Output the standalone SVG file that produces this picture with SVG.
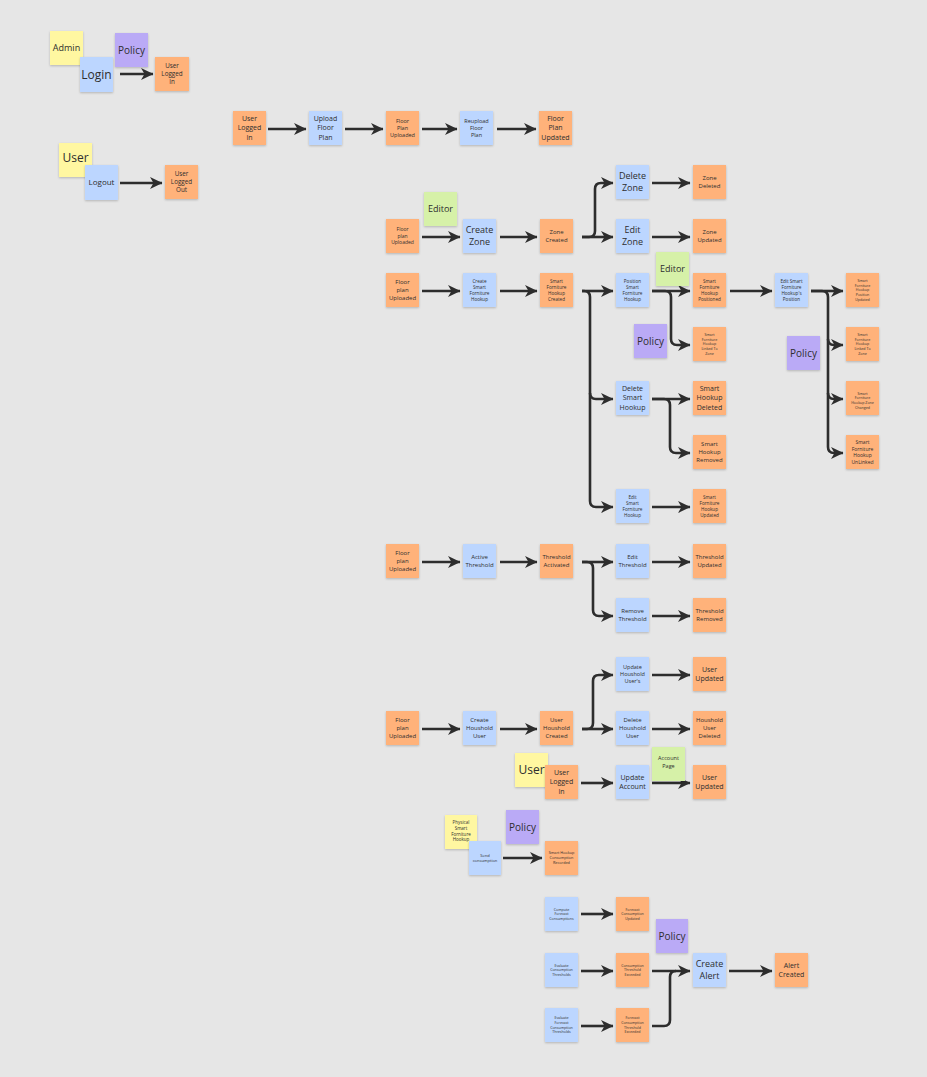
<svg xmlns="http://www.w3.org/2000/svg" width="927" height="1077" viewBox="0 0 927 1077">
<defs>
  <filter id="sh" x="-20%" y="-20%" width="140%" height="150%">
    <feDropShadow dx="0" dy="1" stdDeviation="0.8" flood-color="#000" flood-opacity="0.22"/>
  </filter>
  <marker id="ah" markerUnits="userSpaceOnUse" markerWidth="13" markerHeight="13" refX="12" refY="6.5" orient="auto">
    <path d="M0,0.5 L12.5,6.5 L0,12.5 L3.5,6.5 Z" fill="#2d2d2d"/>
  </marker>
  <style>
    .n rect{filter:url(#sh)}
    .o rect{fill:#ffb27a}
    .b rect{fill:#bcd6ff}
    .y rect{fill:#fff7a1}
    .p rect{fill:#baaaf6}
    .g rect{fill:#d6f1a8}
    .n text{font-family:"Open Sans","Noto Sans",sans-serif;fill:#2e2e2e;text-anchor:middle}
    .c path{fill:none;stroke:#2d2d2d;stroke-width:2.6;stroke-linecap:butt;stroke-linejoin:round}
    .c path.a{marker-end:url(#ah)}
  </style>
</defs>
<rect width="927" height="1077" fill="#e6e6e6"/>

<!-- connectors -->
<g id="connectors" class="c">
  <path class="a" d="M120,74 H153"/>
  <path class="a" d="M120,183 H162"/>
  <path class="a" d="M268,129 H306"/>
  <path class="a" d="M345,129 H383"/>
  <path class="a" d="M422,129 H457"/>
  <path class="a" d="M497,129 H536"/>
  <path class="a" d="M422,237 H460"/>
  <path class="a" d="M500,237 H537"/>
  <path class="a" d="M582,237 H613"/>
  <path class="a" d="M582,237 H589 Q595,237 595,231 V189 Q595,183 601,183 H613"/>
  <path class="a" d="M652,183 H690"/>
  <path class="a" d="M652,237 H690"/>
  <path class="a" d="M422,291 H460"/>
  <path class="a" d="M500,291 H537"/>
  <path class="a" d="M582,291 H613"/>
  <path class="a" d="M582,291 H584 Q590,291 590,297 V501 Q590,507 596,507 H613"/>
  <path class="a" d="M590,393 Q590,399 596,399 H613"/>
  <path class="a" d="M652,291 H690"/>
  <path class="a" d="M652,291 H665 Q671,291 671,297 V339 Q671,345 677,345 H690"/>
  <path class="a" d="M730,291 H772"/>
  <path class="a" d="M811,291 H843"/>
  <path class="a" d="M811,291 H822 Q828,291 828,297 V447 Q828,453 834,453 H843"/>
  <path class="a" d="M828,339 Q828,345 834,345 H843"/>
  <path class="a" d="M828,393 Q828,399 834,399 H843"/>
  <path class="a" d="M652,399 H690"/>
  <path class="a" d="M652,399 H664 Q670,399 670,405 V447 Q670,453 676,453 H690"/>
  <path class="a" d="M652,507 H690"/>
  <path class="a" d="M422,562 H460"/>
  <path class="a" d="M500,562 H537"/>
  <path class="a" d="M582,562 H613"/>
  <path class="a" d="M582,562 H587 Q593,562 593,568 V610 Q593,616 599,616 H613"/>
  <path class="a" d="M652,562 H690"/>
  <path class="a" d="M652,616 H690"/>
  <path class="a" d="M422,729 H460"/>
  <path class="a" d="M500,729 H537"/>
  <path class="a" d="M582,729 H613"/>
  <path class="a" d="M582,729 H587 Q593,729 593,723 V681 Q593,675 599,675 H613"/>
  <path class="a" d="M652,675 H690"/>
  <path class="a" d="M652,729 H690"/>
  <path class="a" d="M581,783 H613"/>
  <path class="a" d="M652,783 H690"/>
  <path class="a" d="M503,858 H542"/>
  <path class="a" d="M581,914 H613"/>
  <path class="a" d="M581,971 H613"/>
  <path class="a" d="M581,1026 H613"/>
  <path class="a" d="M652,971 H690"/>
  <path d="M652,1026 H664 Q670,1026 670,1020 V977 Q670,971 676,971"/>
  <path class="a" d="M729,971 H772"/>
</g>

<!-- sign-in -->
<g id="n-admin" class="n y"><rect x="50" y="31" width="33" height="34"/><text x="66.5" y="48" font-size="9"><tspan x="66.5" dy="0.35em">Admin</tspan></text></g>
<g id="n-policy-login" class="n p"><rect x="115" y="33" width="33" height="34"/><text x="131.5" y="50" font-size="10"><tspan x="131.5" dy="0.35em">Policy</tspan></text></g>
<g id="n-login" class="n b"><rect x="80" y="57" width="33" height="35"/><text x="96.5" y="74.5" font-size="12"><tspan x="96.5" dy="0.35em">Login</tspan></text></g>
<g id="n-user-logged-in-a" class="n o"><rect x="155" y="57" width="34" height="34"/><text x="172" y="74" font-size="6.3"><tspan x="172" dy="-0.95em">User</tspan><tspan x="172" dy="1.3em">Logged</tspan><tspan x="172" dy="1.3em">In</tspan></text></g>
<g id="n-user-a" class="n y"><rect x="59" y="143" width="33" height="34"/><text x="75.5" y="158" font-size="12"><tspan x="75.5" dy="0.35em">User</tspan></text></g>
<g id="n-logout" class="n b"><rect x="85" y="165" width="33" height="35"/><text x="101.5" y="182.5" font-size="8"><tspan x="101.5" dy="0.35em">Logout</tspan></text></g>
<g id="n-user-logged-out" class="n o"><rect x="165" y="165" width="33" height="34"/><text x="181.5" y="182" font-size="6.3"><tspan x="181.5" dy="-0.95em">User</tspan><tspan x="181.5" dy="1.3em">Logged</tspan><tspan x="181.5" dy="1.3em">Out</tspan></text></g>

<!-- floor plan upload -->
<g id="n-user-logged-in-b" class="n o"><rect x="233" y="111" width="33" height="34"/><text x="249.5" y="128" font-size="7"><tspan x="249.5" dy="-0.95em">User</tspan><tspan x="249.5" dy="1.3em">Logged</tspan><tspan x="249.5" dy="1.3em">In</tspan></text></g>
<g id="n-upload-floor-plan" class="n b"><rect x="309" y="111" width="33" height="34"/><text x="325.5" y="128" font-size="7"><tspan x="325.5" dy="-0.95em">Upload</tspan><tspan x="325.5" dy="1.3em">Floor</tspan><tspan x="325.5" dy="1.3em">Plan</tspan></text></g>
<g id="n-floor-plan-uploaded-a" class="n o"><rect x="386" y="111" width="33" height="34"/><text x="402.5" y="128" font-size="5.5"><tspan x="402.5" dy="-0.95em">Floor</tspan><tspan x="402.5" dy="1.3em">Plan</tspan><tspan x="402.5" dy="1.3em">Uploaded</tspan></text></g>
<g id="n-reupload-floor-plan" class="n b"><rect x="460" y="111" width="33" height="34"/><text x="476.5" y="128" font-size="5.5"><tspan x="476.5" dy="-0.95em">Reupload</tspan><tspan x="476.5" dy="1.3em">Floor</tspan><tspan x="476.5" dy="1.3em">Plan</tspan></text></g>
<g id="n-floor-plan-updated" class="n o"><rect x="539" y="111" width="33" height="34"/><text x="555.5" y="128" font-size="7"><tspan x="555.5" dy="-0.95em">Floor</tspan><tspan x="555.5" dy="1.3em">Plan</tspan><tspan x="555.5" dy="1.3em">Updated</tspan></text></g>

<!-- zones -->
<g id="n-editor-a" class="n g"><rect x="424" y="192" width="33" height="34"/><text x="440.5" y="209" font-size="9"><tspan x="440.5" dy="0.35em">Editor</tspan></text></g>
<g id="n-floor-plan-uploaded-b" class="n o"><rect x="386" y="219" width="33" height="34"/><text x="402.5" y="236" font-size="5"><tspan x="402.5" dy="-0.95em">Floor</tspan><tspan x="402.5" dy="1.3em">plan</tspan><tspan x="402.5" dy="1.3em">Uploaded</tspan></text></g>
<g id="n-create-zone" class="n b"><rect x="463" y="219" width="33" height="34"/><text x="479.5" y="236" font-size="9"><tspan x="479.5" dy="-0.3em">Create</tspan><tspan x="479.5" dy="1.3em">Zone</tspan></text></g>
<g id="n-zone-created" class="n o"><rect x="540" y="219" width="33" height="34"/><text x="556.5" y="236" font-size="6"><tspan x="556.5" dy="-0.3em">Zone</tspan><tspan x="556.5" dy="1.3em">Created</tspan></text></g>
<g id="n-delete-zone" class="n b"><rect x="616" y="165" width="33" height="34"/><text x="632.5" y="182" font-size="9"><tspan x="632.5" dy="-0.3em">Delete</tspan><tspan x="632.5" dy="1.3em">Zone</tspan></text></g>
<g id="n-edit-zone" class="n b"><rect x="616" y="219" width="33" height="34"/><text x="632.5" y="236" font-size="9"><tspan x="632.5" dy="-0.3em">Edit</tspan><tspan x="632.5" dy="1.3em">Zone</tspan></text></g>
<g id="n-zone-deleted" class="n o"><rect x="693" y="165" width="33" height="34"/><text x="709.5" y="182" font-size="6"><tspan x="709.5" dy="-0.3em">Zone</tspan><tspan x="709.5" dy="1.3em">Deleted</tspan></text></g>
<g id="n-zone-updated" class="n o"><rect x="693" y="219" width="33" height="34"/><text x="709.5" y="236" font-size="6"><tspan x="709.5" dy="-0.3em">Zone</tspan><tspan x="709.5" dy="1.3em">Updated</tspan></text></g>

<!-- smart furniture hookups -->
<g id="n-floor-plan-uploaded-c" class="n o"><rect x="386" y="273" width="33" height="34"/><text x="402.5" y="290" font-size="6"><tspan x="402.5" dy="-0.95em">Floor</tspan><tspan x="402.5" dy="1.3em">plan</tspan><tspan x="402.5" dy="1.3em">Uploaded</tspan></text></g>
<g id="n-create-sfh" class="n b"><rect x="463" y="273" width="33" height="34"/><text x="479.5" y="290" font-size="4.6"><tspan x="479.5" dy="-1.6em">Create</tspan><tspan x="479.5" dy="1.3em">Smart</tspan><tspan x="479.5" dy="1.3em">Forniture</tspan><tspan x="479.5" dy="1.3em">Hookup</tspan></text></g>
<g id="n-sfh-created" class="n o"><rect x="540" y="273" width="33" height="34"/><text x="556.5" y="290" font-size="4.6"><tspan x="556.5" dy="-1.6em">Smart</tspan><tspan x="556.5" dy="1.3em">Forniture</tspan><tspan x="556.5" dy="1.3em">Hookup</tspan><tspan x="556.5" dy="1.3em">Created</tspan></text></g>
<g id="n-position-sfh" class="n b"><rect x="616" y="273" width="33" height="34"/><text x="632.5" y="290" font-size="4.6"><tspan x="632.5" dy="-1.6em">Position</tspan><tspan x="632.5" dy="1.3em">Smart</tspan><tspan x="632.5" dy="1.3em">Forniture</tspan><tspan x="632.5" dy="1.3em">Hookup</tspan></text></g>
<g id="n-editor-b" class="n g"><rect x="656" y="252" width="33" height="34"/><text x="672.5" y="269" font-size="9"><tspan x="672.5" dy="0.35em">Editor</tspan></text></g>
<g id="n-sfh-positioned" class="n o"><rect x="693" y="273" width="33" height="34"/><text x="709.5" y="290" font-size="4.6"><tspan x="709.5" dy="-1.6em">Smart</tspan><tspan x="709.5" dy="1.3em">Forniture</tspan><tspan x="709.5" dy="1.3em">Hookup</tspan><tspan x="709.5" dy="1.3em">Positioned</tspan></text></g>
<g id="n-policy-position" class="n p"><rect x="634" y="324" width="33" height="34"/><text x="650.5" y="341" font-size="10"><tspan x="650.5" dy="0.35em">Policy</tspan></text></g>
<g id="n-sfh-linked-a" class="n o"><rect x="693" y="327" width="33" height="34"/><text x="709.5" y="344" font-size="3.6"><tspan x="709.5" dy="-2.25em">Smart</tspan><tspan x="709.5" dy="1.3em">Forniture</tspan><tspan x="709.5" dy="1.3em">Hookup</tspan><tspan x="709.5" dy="1.3em">Linked To</tspan><tspan x="709.5" dy="1.3em">Zone</tspan></text></g>
<g id="n-edit-sfh-position" class="n b"><rect x="775" y="273" width="33" height="34"/><text x="791.5" y="290" font-size="4.6"><tspan x="791.5" dy="-1.6em">Edit Smart</tspan><tspan x="791.5" dy="1.3em">Forniture</tspan><tspan x="791.5" dy="1.3em">Hookup's</tspan><tspan x="791.5" dy="1.3em">Position</tspan></text></g>
<g id="n-sfh-position-updated" class="n o"><rect x="846" y="273" width="33" height="34"/><text x="862.5" y="290" font-size="3.6"><tspan x="862.5" dy="-2.25em">Smart</tspan><tspan x="862.5" dy="1.3em">Forniture</tspan><tspan x="862.5" dy="1.3em">Hookup</tspan><tspan x="862.5" dy="1.3em">Position</tspan><tspan x="862.5" dy="1.3em">Updated</tspan></text></g>
<g id="n-policy-edit-position" class="n p"><rect x="787" y="336" width="33" height="34"/><text x="803.5" y="353" font-size="10"><tspan x="803.5" dy="0.35em">Policy</tspan></text></g>
<g id="n-sfh-linked-b" class="n o"><rect x="846" y="327" width="33" height="34"/><text x="862.5" y="344" font-size="3.6"><tspan x="862.5" dy="-2.25em">Smart</tspan><tspan x="862.5" dy="1.3em">Forniture</tspan><tspan x="862.5" dy="1.3em">Hookup</tspan><tspan x="862.5" dy="1.3em">Linked To</tspan><tspan x="862.5" dy="1.3em">Zone</tspan></text></g>
<g id="n-sfh-zone-changed" class="n o"><rect x="846" y="381" width="33" height="34"/><text x="862.5" y="398" font-size="3.6"><tspan x="862.5" dy="-0.95em">Smart</tspan><tspan x="862.5" dy="1.3em">Forniture</tspan><tspan x="862.5" dy="1.3em">Hookup Zone</tspan><tspan x="862.5" dy="1.3em">Changed</tspan></text></g>
<g id="n-sfh-unlinked" class="n o"><rect x="846" y="435" width="33" height="34"/><text x="862.5" y="452" font-size="5"><tspan x="862.5" dy="-1.6em">Smart</tspan><tspan x="862.5" dy="1.3em">Forniture</tspan><tspan x="862.5" dy="1.3em">Hookup</tspan><tspan x="862.5" dy="1.3em">UnLinked</tspan></text></g>
<g id="n-delete-smart-hookup" class="n b"><rect x="616" y="381" width="33" height="34"/><text x="632.5" y="398" font-size="7"><tspan x="632.5" dy="-0.95em">Delete</tspan><tspan x="632.5" dy="1.3em">Smart</tspan><tspan x="632.5" dy="1.3em">Hookup</tspan></text></g>
<g id="n-smart-hookup-deleted" class="n o"><rect x="693" y="381" width="33" height="34"/><text x="709.5" y="398" font-size="7"><tspan x="709.5" dy="-0.95em">Smart</tspan><tspan x="709.5" dy="1.3em">Hookup</tspan><tspan x="709.5" dy="1.3em">Deleted</tspan></text></g>
<g id="n-smart-hookup-removed" class="n o"><rect x="693" y="435" width="33" height="34"/><text x="709.5" y="452" font-size="6"><tspan x="709.5" dy="-0.95em">Smart</tspan><tspan x="709.5" dy="1.3em">Hookup</tspan><tspan x="709.5" dy="1.3em">Removed</tspan></text></g>
<g id="n-edit-sfh" class="n b"><rect x="616" y="489" width="33" height="34"/><text x="632.5" y="506" font-size="4.6"><tspan x="632.5" dy="-1.6em">Edit</tspan><tspan x="632.5" dy="1.3em">Smart</tspan><tspan x="632.5" dy="1.3em">Forniture</tspan><tspan x="632.5" dy="1.3em">Hookup</tspan></text></g>
<g id="n-sfh-updated" class="n o"><rect x="693" y="489" width="33" height="34"/><text x="709.5" y="506" font-size="4.6"><tspan x="709.5" dy="-1.6em">Smart</tspan><tspan x="709.5" dy="1.3em">Forniture</tspan><tspan x="709.5" dy="1.3em">Hookup</tspan><tspan x="709.5" dy="1.3em">Updated</tspan></text></g>

<!-- thresholds -->
<g id="n-floor-plan-uploaded-d" class="n o"><rect x="386" y="544" width="33" height="34"/><text x="402.5" y="561" font-size="6"><tspan x="402.5" dy="-0.95em">Floor</tspan><tspan x="402.5" dy="1.3em">plan</tspan><tspan x="402.5" dy="1.3em">Uploaded</tspan></text></g>
<g id="n-active-threshold" class="n b"><rect x="463" y="544" width="33" height="34"/><text x="479.5" y="561" font-size="6"><tspan x="479.5" dy="-0.3em">Active</tspan><tspan x="479.5" dy="1.3em">Threshold</tspan></text></g>
<g id="n-threshold-activated" class="n o"><rect x="540" y="544" width="33" height="34"/><text x="556.5" y="561" font-size="6"><tspan x="556.5" dy="-0.3em">Threshold</tspan><tspan x="556.5" dy="1.3em">Activated</tspan></text></g>
<g id="n-edit-threshold" class="n b"><rect x="616" y="544" width="33" height="34"/><text x="632.5" y="561" font-size="6"><tspan x="632.5" dy="-0.3em">Edit</tspan><tspan x="632.5" dy="1.3em">Threshold</tspan></text></g>
<g id="n-threshold-updated" class="n o"><rect x="693" y="544" width="33" height="34"/><text x="709.5" y="561" font-size="6"><tspan x="709.5" dy="-0.3em">Threshold</tspan><tspan x="709.5" dy="1.3em">Updated</tspan></text></g>
<g id="n-remove-threshold" class="n b"><rect x="616" y="598" width="33" height="34"/><text x="632.5" y="615" font-size="6"><tspan x="632.5" dy="-0.3em">Remove</tspan><tspan x="632.5" dy="1.3em">Threshold</tspan></text></g>
<g id="n-threshold-removed" class="n o"><rect x="693" y="598" width="33" height="34"/><text x="709.5" y="615" font-size="6"><tspan x="709.5" dy="-0.3em">Threshold</tspan><tspan x="709.5" dy="1.3em">Removed</tspan></text></g>

<!-- household users -->
<g id="n-update-household-user" class="n b"><rect x="616" y="657" width="33" height="34"/><text x="632.5" y="674" font-size="5.5"><tspan x="632.5" dy="-0.95em">Update</tspan><tspan x="632.5" dy="1.3em">Houshold</tspan><tspan x="632.5" dy="1.3em">User's</tspan></text></g>
<g id="n-user-updated-a" class="n o"><rect x="693" y="657" width="33" height="34"/><text x="709.5" y="674" font-size="7"><tspan x="709.5" dy="-0.3em">User</tspan><tspan x="709.5" dy="1.3em">Updated</tspan></text></g>
<g id="n-floor-plan-uploaded-e" class="n o"><rect x="386" y="711" width="33" height="34"/><text x="402.5" y="728" font-size="6"><tspan x="402.5" dy="-0.95em">Floor</tspan><tspan x="402.5" dy="1.3em">plan</tspan><tspan x="402.5" dy="1.3em">Uploaded</tspan></text></g>
<g id="n-create-household-user" class="n b"><rect x="463" y="711" width="33" height="34"/><text x="479.5" y="728" font-size="6"><tspan x="479.5" dy="-0.95em">Create</tspan><tspan x="479.5" dy="1.3em">Houshold</tspan><tspan x="479.5" dy="1.3em">User</tspan></text></g>
<g id="n-household-user-created" class="n o"><rect x="540" y="711" width="33" height="34"/><text x="556.5" y="728" font-size="6"><tspan x="556.5" dy="-0.95em">User</tspan><tspan x="556.5" dy="1.3em">Houshold</tspan><tspan x="556.5" dy="1.3em">Created</tspan></text></g>
<g id="n-delete-household-user" class="n b"><rect x="616" y="711" width="33" height="34"/><text x="632.5" y="728" font-size="6"><tspan x="632.5" dy="-0.95em">Delete</tspan><tspan x="632.5" dy="1.3em">Houshold</tspan><tspan x="632.5" dy="1.3em">User</tspan></text></g>
<g id="n-household-user-deleted" class="n o"><rect x="693" y="711" width="33" height="34"/><text x="709.5" y="728" font-size="6"><tspan x="709.5" dy="-0.95em">Houshold</tspan><tspan x="709.5" dy="1.3em">User</tspan><tspan x="709.5" dy="1.3em">Deleted</tspan></text></g>
<g id="n-user-b" class="n y"><rect x="515" y="753" width="33" height="34"/><text x="531.5" y="770" font-size="12"><tspan x="531.5" dy="0.35em">User</tspan></text></g>
<g id="n-user-logged-in-c" class="n o"><rect x="545" y="765" width="33" height="34"/><text x="561.5" y="782" font-size="7"><tspan x="561.5" dy="-0.95em">User</tspan><tspan x="561.5" dy="1.3em">Logged</tspan><tspan x="561.5" dy="1.3em">In</tspan></text></g>
<g id="n-update-account" class="n b"><rect x="616" y="765" width="33" height="34"/><text x="632.5" y="782" font-size="7"><tspan x="632.5" dy="-0.3em">Update</tspan><tspan x="632.5" dy="1.3em">Account</tspan></text></g>
<g id="n-account-page" class="n g"><rect x="652" y="747" width="33" height="34"/><text x="668.5" y="762" font-size="5.5"><tspan x="668.5" dy="-0.3em">Account</tspan><tspan x="668.5" dy="1.3em">Page</tspan></text></g>
<g id="n-user-updated-b" class="n o"><rect x="693" y="765" width="33" height="34"/><text x="709.5" y="782" font-size="7"><tspan x="709.5" dy="-0.3em">User</tspan><tspan x="709.5" dy="1.3em">Updated</tspan></text></g>

<!-- consumption -->
<g id="n-physical-sfh" class="n y"><rect x="445" y="815" width="32" height="34"/><text x="461" y="831" font-size="4.5"><tspan x="461" dy="-1.6em">Physical</tspan><tspan x="461" dy="1.3em">Smart</tspan><tspan x="461" dy="1.3em">Forniture</tspan><tspan x="461" dy="1.3em">Hookup</tspan></text></g>
<g id="n-policy-consumption" class="n p"><rect x="506" y="810" width="33" height="34"/><text x="522.5" y="827" font-size="10"><tspan x="522.5" dy="0.35em">Policy</tspan></text></g>
<g id="n-send-consumption" class="n b"><rect x="469" y="841" width="32" height="34"/><text x="485" y="858" font-size="4"><tspan x="485" dy="-0.3em">Send</tspan><tspan x="485" dy="1.3em">consumption</tspan></text></g>
<g id="n-consumption-recorded" class="n o"><rect x="545" y="841" width="33" height="34"/><text x="561.5" y="858" font-size="3.8"><tspan x="561.5" dy="-0.95em">Smart Hookup</tspan><tspan x="561.5" dy="1.3em">Consumption</tspan><tspan x="561.5" dy="1.3em">Recorded</tspan></text></g>

<!-- forecasts and alerts -->
<g id="n-compute-forecast" class="n b"><rect x="545" y="897" width="33" height="34"/><text x="561.5" y="914" font-size="3.6"><tspan x="561.5" dy="-0.95em">Compute</tspan><tspan x="561.5" dy="1.3em">Forecast</tspan><tspan x="561.5" dy="1.3em">Consumptions</tspan></text></g>
<g id="n-forecast-updated" class="n o"><rect x="616" y="897" width="33" height="34"/><text x="632.5" y="914" font-size="3.6"><tspan x="632.5" dy="-0.95em">Forecast</tspan><tspan x="632.5" dy="1.3em">Consumption</tspan><tspan x="632.5" dy="1.3em">Updated</tspan></text></g>
<g id="n-policy-alert" class="n p"><rect x="656" y="919" width="32" height="34"/><text x="672" y="936" font-size="10"><tspan x="672" dy="0.35em">Policy</tspan></text></g>
<g id="n-evaluate-thresholds" class="n b"><rect x="545" y="953" width="33" height="34"/><text x="561.5" y="970" font-size="3.6"><tspan x="561.5" dy="-0.95em">Evaluate</tspan><tspan x="561.5" dy="1.3em">Consumption</tspan><tspan x="561.5" dy="1.3em">Thresholds</tspan></text></g>
<g id="n-threshold-exceeded" class="n o"><rect x="616" y="953" width="33" height="34"/><text x="632.5" y="970" font-size="3.6"><tspan x="632.5" dy="-0.95em">Consumption</tspan><tspan x="632.5" dy="1.3em">Threshold</tspan><tspan x="632.5" dy="1.3em">Exceeded</tspan></text></g>
<g id="n-create-alert" class="n b"><rect x="693" y="953" width="33" height="34"/><text x="709.5" y="970" font-size="9"><tspan x="709.5" dy="-0.3em">Create</tspan><tspan x="709.5" dy="1.3em">Alert</tspan></text></g>
<g id="n-alert-created" class="n o"><rect x="775" y="953" width="33" height="34"/><text x="791.5" y="970" font-size="7"><tspan x="791.5" dy="-0.3em">Alert</tspan><tspan x="791.5" dy="1.3em">Created</tspan></text></g>
<g id="n-evaluate-forecast-thresholds" class="n b"><rect x="545" y="1008" width="33" height="34"/><text x="561.5" y="1025" font-size="3.6"><tspan x="561.5" dy="-1.6em">Evaluate</tspan><tspan x="561.5" dy="1.3em">Forecast</tspan><tspan x="561.5" dy="1.3em">Consumption</tspan><tspan x="561.5" dy="1.3em">Thresholds</tspan></text></g>
<g id="n-forecast-threshold-exceeded" class="n o"><rect x="616" y="1008" width="33" height="34"/><text x="632.5" y="1025" font-size="3.6"><tspan x="632.5" dy="-1.6em">Forecast</tspan><tspan x="632.5" dy="1.3em">Consumption</tspan><tspan x="632.5" dy="1.3em">Threshold</tspan><tspan x="632.5" dy="1.3em">Exceeded</tspan></text></g>
</svg>
